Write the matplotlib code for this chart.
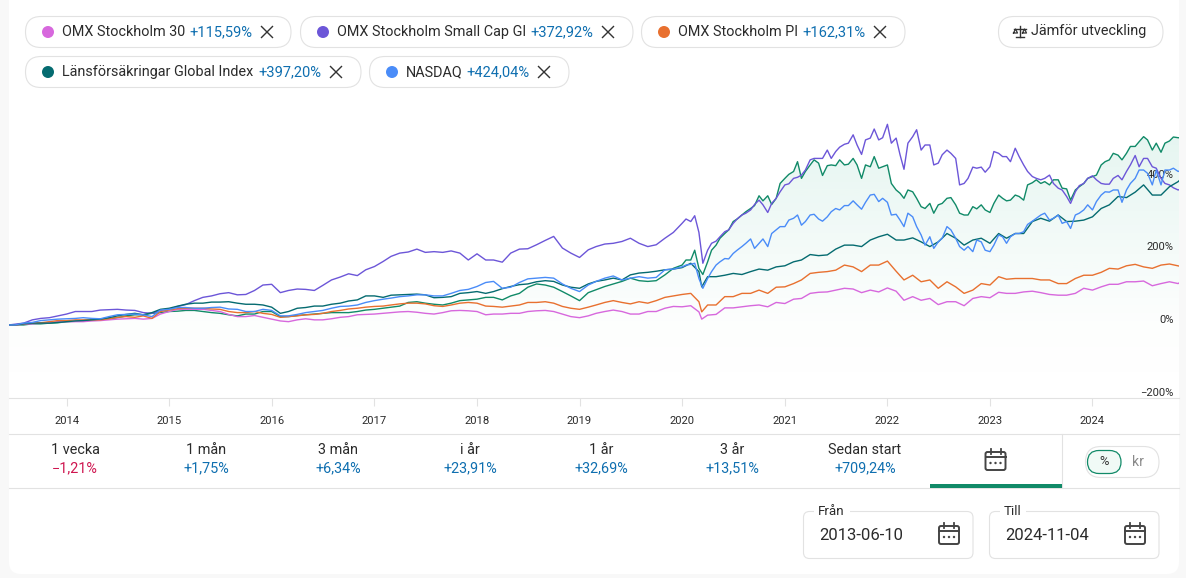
import numpy as np
import pandas as pd
import matplotlib
matplotlib.use("Agg")
import matplotlib.pyplot as plt
import matplotlib.dates as mdates
from matplotlib.patches import FancyBboxPatch, Circle, Rectangle

plt.rcParams['font.family'] = ['Roboto', 'DejaVu Sans']

# ---------- data (percent change since start) ----------
START, END = '2013-06-10', '2024-11-04'
early_dates = [pd.Timestamp(START)] + list(pd.date_range('2013-07-01', '2019-12-01', freq='MS'))
fine_dates = early_dates + list(pd.date_range('2020-01-01', '2024-11-01', freq='SMS')) + [pd.Timestamp(END)]
coarse_dates = early_dates + sorted(list(pd.date_range('2020-01-01', '2024-11-01', freq='MS')) + [pd.Timestamp('2020-03-11')]) + [pd.Timestamp(END)]


def weave(a, b):
    out = list(a[:2])
    for m, v in zip(b, a[2:] + [None]):
        out.append(m)
        if v is not None:
            out.append(v)
    return out


smallcap_early = weave(
    [0,2,14,20,30,37,41,43,40,32,43,56,76,86,83,95,112,95,98,109,132,136,161,189,201,200,200,198,196,179,198,210,233,212,186,216,225,239,216,239],
    [5,18,25,37,37,42,41,34,40,51,67,80,89,84,110,89,99,95,124,141,152,175,198,209,202,204,179,179,173,209,221,244,198,207,223,230,225,221,255])
fund_early = weave(
    [0,0,3,5,9,12,16,20,28,32,37,40,37,32,25,30,37,23,28,32,34,37,43,49,62,60,55,67,71,76,80,104,110,92,67,97,113,129,120,138],
    [0,3,6,10,14,17,25,28,34,38,40,34,28,30,37,23,26,30,34,34,41,46,52,64,57,60,69,76,69,87,113,104,80,89,106,120,122,122,156])
nasdaq_early = weave(
    [0,0,7,14,17,20,17,28,30,23,43,48,46,49,43,37,40,25,34,40,51,55,67,74,80,83,80,95,106,120,104,127,131,113,92,120,135,129,129,152],
    [5,12,16,18,18,23,29,28,41,48,46,48,44,37,43,25,29,37,46,52,62,71,78,83,80,87,98,117,101,117,129,129,101,110,129,124,133,131,154])
global_index_early = weave(
    [0,0,5,5,9,12,16,25,32,34,46,57,60,63,60,57,49,37,48,52,60,69,80,82,84,83,76,87,92,92,106,113,122,110,101,120,129,138,145,152],
    [3,5,7,11,14,20,29,28,43,52,60,63,64,57,55,32,46,52,57,66,80,76,83,85,75,78,89,87,100,111,119,120,104,113,124,124,143,148,154])
omx_pi_early = weave(
    [0,0,5,9,12,14,14,21,21,18,41,46,46,43,34,37,29,23,28,32,40,46,51,55,60,58,51,60,60,51,52,62,64,51,43,55,67,58,60,76],
    [3,6,12,14,14,17,23,25,37,45,46,44,37,34,32,21,25,29,37,44,49,52,58,60,53,55,62,52,49,55,62,60,46,49,62,62,64,67,80])
omx30_early = weave(
    [0,0,3,7,9,9,12,16,18,18,37,43,43,37,23,26,16,9,17,14,21,28,30,34,37,32,34,40,37,30,32,37,40,30,20,32,41,30,37,46],
    [2,5,9,9,11,14,17,16,30,43,43,40,29,23,21,11,14,14,17,23,29,32,36,35,30,39,39,28,30,32,39,37,23,25,37,37,30,37,51])

smallcap = smallcap_early + [
    280,292,285,301,255,170,206,225,231,243,257,262,280,292,303,308,317,332,344,331,310,335,349,367,386,389,404,407,413,427,455,459,459,459,482,459,478,490,498,501,
    524,496,470,510,515,540,510,516,553,501,515,469,429,501,519,538,482,496,496,441,446,469,482,473,459,386,390,404,435,432,435,421,436,478,473,464,464,
    450,487,464,441,423,409,404,400,404,413,390,377,372,354,335,367,384,390,404,411,400,390,388,388,404,412,400,423,441,467,436,459,459,436,432,404,390,386,378,372,372.92]
fund = fund_early + [
    165,179,179,206,156,139,174,206,220,239,252,262,285,292,303,312,321,329,356,342,356,332,349,390,404,415,423,450,404,423,441,455,446,412,439,441,439,455,441,443,
    459,441,404,441,436,464,432,436,441,390,372,363,349,372,367,349,326,321,335,308,331,335,349,351,331,308,303,303,326,320,331,317,310,335,358,349,342,
    344,358,354,344,386,392,400,390,395,386,400,400,377,375,344,372,381,390,404,409,413,441,450,455,473,468,455,473,492,492,505,519,510,482,501,476,501,507,518,516,516]
nasdaq = nasdaq_early + [
    160,165,167,170,128,101,128,147,165,174,183,182,197,206,216,225,237,211,225,237,216,252,262,271,271,289,294,303,275,285,303,305,292,286,298,312,321,317,329,329,
    342,331,319,338,358,360,340,349,338,303,305,289,271,308,298,271,248,220,243,211,229,239,271,262,239,216,206,216,202,234,229,206,202,220,248,243,225,
    243,252,252,257,277,286,294,303,308,289,294,303,280,285,266,303,308,317,331,317,340,358,367,366,372,372,338,372,390,404,427,427,418,386,427,386,427,427,432,423,424.04]
global_index = global_index_early + [
    158,170,147,105,133,133,137,142,139,147,154,151,160,163,174,179,194,191,193,209,220,
    220,216,234,243,250,234,234,240,229,216,229,252,239,220,234,239,225,252,239,
    252,252,285,294,286,303,285,286,289,298,321,331,354,351,366,386,358,358,381,395,397.20]
omx_pi = omx_pi_early + [
    84,87,64,36,55,55,78,78,87,87,96,87,104,105,114,124,142,145,147,151,165,
    160,147,165,165,176,148,124,137,119,124,101,119,105,87,96,114,110,133,126,
    128,128,128,124,124,114,114,128,137,137,145,156,154,163,167,160,156,165,168,163,162.31]
omx30 = omx30_early + [
    50,53,36,16,27,29,47,47,50,53,55,50,62,59,71,73,87,90,91,96,101,
    99,89,96,91,102,93,68,78,68,73,56,64,64,53,73,78,75,90,87,
    87,91,93,89,84,82,82,87,101,96,105,112,112,119,119,121,108,114,119,114,115.59]

year_ticks = list(range(2014, 2025))
y_ticks = [-200, 0, 200, 400]

chips = ["OMX Stockholm 30", "OMX Stockholm Small Cap GI", "OMX Stockholm PI",
         "Länsförsäkringar Global Index", "NASDAQ"]
chip_values = ["+115,59%", "+372,92%", "+162,31%", "+397,20%", "+424,04%"]
periods = ["1 vecka", "1 mån", "3 mån", "i år", "1 år", "3 år", "Sedan start"]
period_values = ["−1,21%", "+1,75%", "+6,34%", "+23,91%", "+32,69%", "+13,51%", "+709,24%"]

C_PINK, C_PURPLE, C_ORANGE, C_TEAL, C_BLUE, C_GREEN = '#d768dd', '#6c56d8', '#e8702f', '#056b70', '#4a8cf8', '#118a68'
C_VAL, C_NEG, C_TXT, C_BORDER = '#0f6fb0', '#cf1650', '#2b2b2b', '#e2e2e2'
chip_colors = [C_PINK, C_PURPLE, C_ORANGE, C_TEAL, C_BLUE]

# ---------- figure ----------
W, H = 1186, 578
fig = plt.figure(figsize=(W / 100, H / 100), dpi=100, facecolor='#f8f8f8')
ui = fig.add_axes([0, 0, 1, 1], zorder=0)
ui.set_xlim(0, W); ui.set_ylim(H, 0); ui.axis('off')


def rbox(x0, y0, x1, y1, r, fc='white', ec=C_BORDER, lw=0.8, z=1):
    p = FancyBboxPatch((x0 + r, y0 + r), x1 - x0 - 2 * r, y1 - y0 - 2 * r,
                       boxstyle=f"round,pad={r},rounding_size={r}", fc=fc, ec=ec, lw=lw, zorder=z)
    ui.add_patch(p)


def txt(x, y, s, size=10.4, color=C_TXT, ha='left', z=5):
    ui.text(x, y, s, fontsize=size, color=color, ha=ha, va='center', zorder=z)


def cross(x, y, r=5.5):
    ui.plot([x - r, x + r], [y - r, y + r], color='#333333', lw=1.0, zorder=5)
    ui.plot([x - r, x + r], [y + r, y - r], color='#333333', lw=1.0, zorder=5)


def calendar(x, y):
    rbox(x - 10, y - 8, x + 10, y + 10, 2, fc='none', ec='#444444', lw=1.4, z=5)
    ui.plot([x - 10, x + 10], [y - 3.5, y - 3.5], color='#444444', lw=1.4, zorder=5)
    for dx in (-5, 5):
        ui.plot([x + dx, x + dx], [y - 11, y - 6], color='#444444', lw=1.3, zorder=5)
    for dx in (-5, 0, 5):
        ui.add_patch(Circle((x + dx, y + 3), 1.2, fc='#444444', ec='none', zorder=5))


# card
rbox(9, -30, 1179, 574, 12, fc='white', ec='none', lw=0, z=0.5)

# chips
chip_boxes = [(25.5, 291, 16.5, 47.5, 48, 62, 189, 267), (300.5, 633, 16.5, 47.5, 323, 337, 530, 608),
              (641.5, 905, 16.5, 47.5, 664, 678, 802, 880), (25.5, 361, 56.5, 87.5, 48, 62, 258, 336),
              (369.5, 569, 56.5, 87.5, 392, 406, 466, 544)]
for name, val, col, (x0, x1, y0, y1, xd, xt, xv, xc) in zip(chips, chip_values, chip_colors, chip_boxes):
    ym = (y0 + y1) / 2
    rbox(x0, y0, x1, y1, 15.5)
    ui.add_patch(Circle((xd, ym), 6, fc=col, ec='none', zorder=5))
    txt(xt, ym, name)
    txt(xv, ym, val, color=C_VAL, size=10.5)
    cross(xc, ym)

# compare button
rbox(998.5, 16.5, 1163, 47.5, 15.5)
txt(1031, 31.5, "Jämför utveckling")
ui.plot([1014, 1026], [29, 29], color='#333333', lw=1.0, zorder=5)
ui.plot([1020, 1020], [26, 37], color='#333333', lw=1.0, zorder=5)
ui.plot([1016, 1024], [37, 37], color='#333333', lw=1.0, zorder=5)
ui.plot([1013.5, 1015.5, 1017.5, 1013.5], [33, 29, 33, 33], color='#333333', lw=0.9, zorder=5)
ui.plot([1022.5, 1024.5, 1026.5, 1022.5], [33, 29, 33, 33], color='#333333', lw=0.9, zorder=5)

# period row
for yl in (434, 488):
    ui.plot([9, 1179], [yl, yl], color=C_BORDER, lw=0.8, zorder=2)
ui.plot([1062, 1062], [434, 488], color=C_BORDER, lw=0.8, zorder=2)
ui.add_patch(Rectangle((930, 484), 132, 4, fc=C_GREEN, ec='none', zorder=3))
for x, lab, val in zip([75, 206, 338, 470, 601, 732, 865], periods, period_values):
    txt(x, 450.5, lab, ha='center')
    txt(x, 468, val, ha='center', color=C_NEG if val.startswith('−') else C_VAL)
calendar(995.5, 460)

# unit toggle
rbox(1085.5, 446.5, 1159, 477.5, 15.5)
rbox(1087.5, 450.5, 1121, 473.5, 11.5, fc='#f0faf6', ec=C_GREEN, lw=0.9, z=2)
txt(1104, 461.5, "%", size=9.4, ha='center', color='#333333')
txt(1138, 461.5, "kr", size=10, ha='center', color='#8a8a8a')

# date fields
for x0, x1, lab, val in [(803.5, 973, "Från", START), (989.5, 1159, "Till", END)]:
    rbox(x0, 511.5, x1, 558.5, 6)
    lab_w = 36 if lab == "Från" else 26
    ui.add_patch(Rectangle((x0 + 10, 506), lab_w, 10, fc='white', ec='none', zorder=3))
    txt(x0 + 14, 511.5, lab, size=9.6)
    txt(x0 + 15.5, 535, val, size=12)
    calendar(x1 - 24, 534)

# ---------- chart ----------
ax = fig.add_axes([9 / W, 1 - 397.5 / H, 1170 / W, 297.5 / H], zorder=1)
ax.patch.set_alpha(0)
fx = mdates.date2num(fine_dates)
cx = mdates.date2num(coarse_dates)
Y_MIN, Y_MAX = -200, 620

# gradient area under the fund line
poly = ax.fill_between(fx, fund, Y_MIN, color='none', lw=0)
grad = np.zeros((256, 1, 4))
grad[..., :3] = matplotlib.colors.to_rgb('#1aa97f')
grad[:, 0, 3] = np.interp(np.linspace(0, 1, 256), [0, 0.7, 1], [0.11, 0.012, 0.0])
im = ax.imshow(grad, aspect='auto', extent=[fx[0], fx[-1], Y_MIN, max(fund)],
               origin='upper', zorder=1, interpolation='bilinear')
im.set_clip_path(poly.get_paths()[0], transform=ax.transData)

LW = 1.0
ax.plot(fx, fund, color=C_GREEN, lw=LW, zorder=2)
ax.plot(cx, omx30, color=C_PINK, lw=LW, zorder=3)
ax.plot(fx, smallcap, color=C_PURPLE, lw=LW, zorder=3)
ax.plot(cx, omx_pi, color=C_ORANGE, lw=LW, zorder=3)
ax.plot(cx, global_index, color=C_TEAL, lw=LW, zorder=3)
ax.plot(fx, nasdaq, color=C_BLUE, lw=LW, zorder=4)

ax.set_xlim(mdates.date2num(pd.Timestamp(START)), mdates.date2num(pd.Timestamp(END)))
ax.set_ylim(Y_MIN, Y_MAX)
for s in ('top', 'left', 'right'):
    ax.spines[s].set_visible(False)
ax.spines['bottom'].set_color(C_BORDER)
ax.spines['bottom'].set_linewidth(0.8)

ax.set_xticks(mdates.date2num([pd.Timestamp(f'{y}-01-01') for y in year_ticks]))
ax.set_xticklabels([str(y) for y in year_ticks], fontsize=8.1, color=C_TXT)
ax.tick_params(axis='x', length=5.5, width=0.8, color=C_BORDER, pad=8)

ax.yaxis.tick_right()
ax.set_yticks(y_ticks)
ax.set_yticklabels([f'{v}%'.replace('-', '−') for v in y_ticks], fontsize=8.1, color=C_TXT, ha='right', va='bottom')
ax.tick_params(axis='y', length=0, pad=-4, zorder=6)

fig.savefig('out.png', dpi=100, facecolor=fig.get_facecolor())
